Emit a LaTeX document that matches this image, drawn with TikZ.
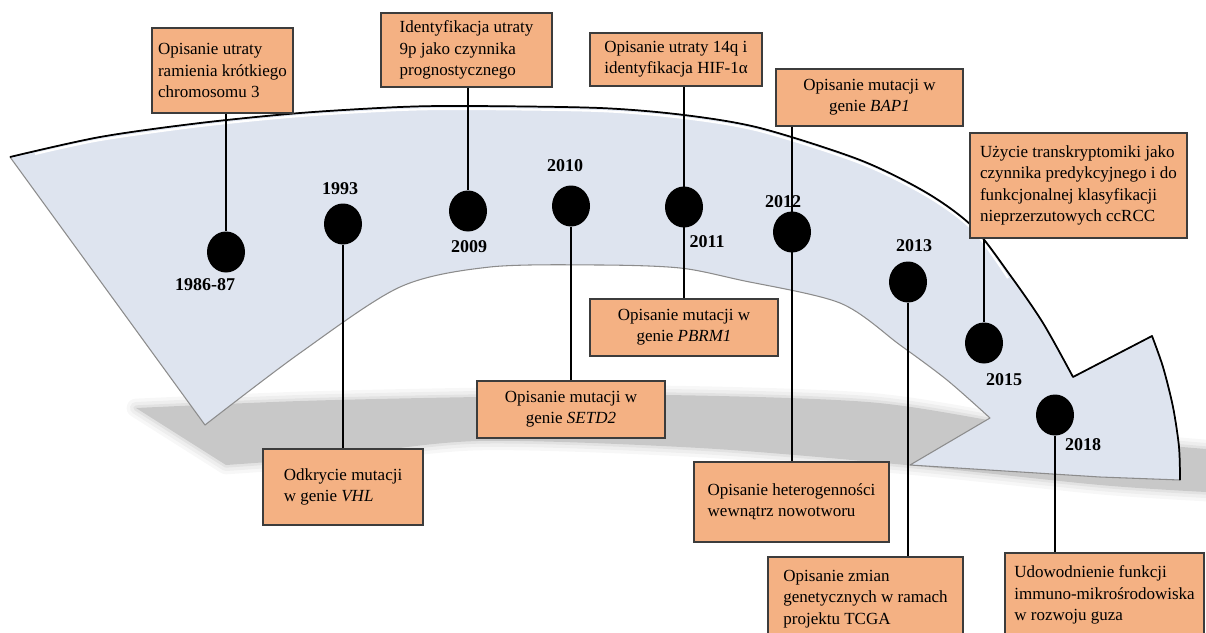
\documentclass[tikz,border=0pt]{standalone}
\usepackage{fontspec}
\setmainfont{Liberation Serif}
\usetikzlibrary{shapes.geometric}

\definecolor{boxfill}{RGB}{244,177,131}
\definecolor{boxline}{RGB}{60,60,60}
\definecolor{arrowfill}{RGB}{222,228,239}
\definecolor{shadowgray}{RGB}{200,200,200}

\tikzset{
  event/.style={draw=boxline, fill=boxfill, line width=0.9pt, inner sep=3pt,
    font=\fontsize{12.75}{16}\selectfont},
  dot/.style={ellipse, fill=black, minimum width=28.5pt, minimum height=30.75pt, inner sep=0pt},
  year/.style={font=\bfseries\fontsize{13.5}{16}\selectfont},
  stem/.style={line width=0.9pt},
}

% outline of the shadow under the arrow
\def\shadowpath{plot[smooth] coordinates {(136,408) (300,401) (478,397) (665,395) (868,402) (1000,422) (1100,439) (1206,449)}
  -- (1206,492)
  -- plot[smooth] coordinates {(1206,492) (1100,485) (906,465) (700,448) (478,441) (330,457) (226,465)}
  -- cycle}

\begin{document}
\begin{tikzpicture}[x=0.75pt,y=-0.75pt]
\useasboundingbox (0,0) rectangle (1206,632);

% shadow under the arrow
\foreach \w/\o in {14/0.15, 9/0.2, 4/0.3}
  \draw[shadowgray, line width=\w pt, opacity=\o, line join=round] \shadowpath;
\fill[shadowgray] \shadowpath;

% arrow body
\path[fill=arrowfill, draw=black!45, line width=0.8pt, line join=round]
  plot[smooth] coordinates {(10,157) (100,137) (200,123) (300,113) (400,107) (470,106) (600,108) (684,115)
    (760,128) (860,160) (927,193) (973,227) (1010,275) (1043,323) (1073,377)}
  -- plot[smooth] coordinates {(1152,336) (1163,367) (1173,407) (1179,447) (1180,480)}
  -- (1100,477) -- (910,465) -- (990,418)
  -- plot[smooth] coordinates {(990,418) (947,380) (900,345) (840,303) (740,280) (680,268) (600,265)
    (490,267) (400,287) (300,353) (205,425)}
  -- cycle;
\draw[white, line width=1.6pt]
  plot[smooth] coordinates {(35,154) (100,140) (200,126) (300,116) (400,110) (470,109) (600,111) (684,118)
    (760,131) (860,163) (927,196) (973,230) (1008,278)};
\draw[black, line width=1.3pt, line join=round]
  plot[smooth] coordinates {(10,157) (100,137) (200,123) (300,113) (400,107) (470,106) (600,108) (684,115)
    (760,128) (860,160) (927,193) (973,227) (1010,275) (1043,323) (1073,377)}
  -- plot[smooth] coordinates {(1152,336) (1163,367) (1173,407) (1179,447) (1180,480)};

% boxes
\node[event, align=left, minimum width=105.75pt, minimum height=63.75pt] (b1986) at (222.5,70.5)
  {Opisanie utraty\\ramienia krótkiego\\chromosomu 3};
\node[event, align=left, minimum width=128.25pt, minimum height=55.5pt] (b2009) at (466.5,50)
  {Identyfikacja utraty\\9p jako czynnika\\prognostycznego};
\node[event, align=left, minimum width=129pt, minimum height=39.75pt] (b2011a) at (676,59.5)
  {Opisanie utraty 14q i\\identyfikacja HIF-1α};
\node[event, align=center, minimum width=140.25pt, minimum height=42.75pt] (b2012a) at (869.5,97.5)
  {Opisanie mutacji w\\genie \textit{BAP1}};
\node[event, align=left, minimum width=162.75pt, minimum height=78.75pt] (b2015) at (1078.5,185.5)
  {Użycie transkryptomiki jako\\czynnika predykcyjnego i do\\funkcjonalnej klasyfikacji\\nieprzerzutowych ccRCC};
\node[event, align=left, minimum width=120pt, minimum height=57pt] (b1993) at (343,487)
  {Odkrycie mutacji\\w genie \textit{VHL}};
\node[event, align=center, minimum width=141pt, minimum height=42.75pt] (b2010) at (571,409.5)
  {Opisanie mutacji w\\genie \textit{SETD2}};
\node[event, align=center, minimum width=141pt, minimum height=42.75pt] (b2011b) at (684,327.5)
  {Opisanie mutacji w\\genie \textit{PBRM1}};
\node[event, align=left, minimum width=146.25pt, minimum height=60pt] (b2012b) at (791.5,502)
  {Opisanie heterogenności\\wewnątrz nowotworu};
\node[event, align=left, minimum width=146.25pt, minimum height=63pt] (b2013) at (865.5,599)
  {Opisanie zmian\\genetycznych w ramach\\projektu TCGA};
\node[event, align=left, minimum width=149.25pt, minimum height=63pt] (b2018) at (1104.5,595)
  {Udowodnienie funkcji\\immuno-mikrośrodowiska\\w rozwoju guza};

% dots
\node[dot] (d1986) at (226,252) {};
\node[dot] (d1993) at (343,224) {};
\node[dot] (d2009) at (468,211) {};
\node[dot] (d2010) at (571,206) {};
\node[dot] (d2011) at (684,207) {};
\node[dot] (d2012) at (792,232) {};
\node[dot] (d2013) at (908,282) {};
\node[dot] (d2015) at (984,343) {};
\node[dot] (d2018) at (1055,415) {};

% stems
\draw[stem] (d1986 |- b1986.south) -- (d1986);
\draw[stem] (d1993) -- (d1993 |- b1993.north);
\draw[stem] (d2009 |- b2009.south) -- (d2009);
\draw[stem] (d2010) -- (d2010 |- b2010.north);
\draw[stem] (d2011 |- b2011a.south) -- (d2011 |- b2011b.north);
\draw[stem] (d2012 |- b2012a.south) -- (d2012 |- b2012b.north);
\draw[stem] (d2013) -- (d2013 |- b2013.north);
\draw[stem] (d2015 |- b2015.south) -- (d2015);
\draw[stem] (d2018) -- (d2018 |- b2018.north);

% years
\node[year] (y1986) at (205,285) {1986-87};
\node[year] (y1993) at (340,189) {1993};
\node[year] (y2009) at (469,247) {2009};
\node[year] (y2010) at (565,166) {2010};
\node[year] (y2011) at (707,242) {2011};
\node[year] (y2012) at (783,202) {2012};
\node[year] (y2013) at (914,246) {2013};
\node[year] (y2015) at (1004,380) {2015};
\node[year] (y2018) at (1083,445) {2018};
\end{tikzpicture}
\end{document}
